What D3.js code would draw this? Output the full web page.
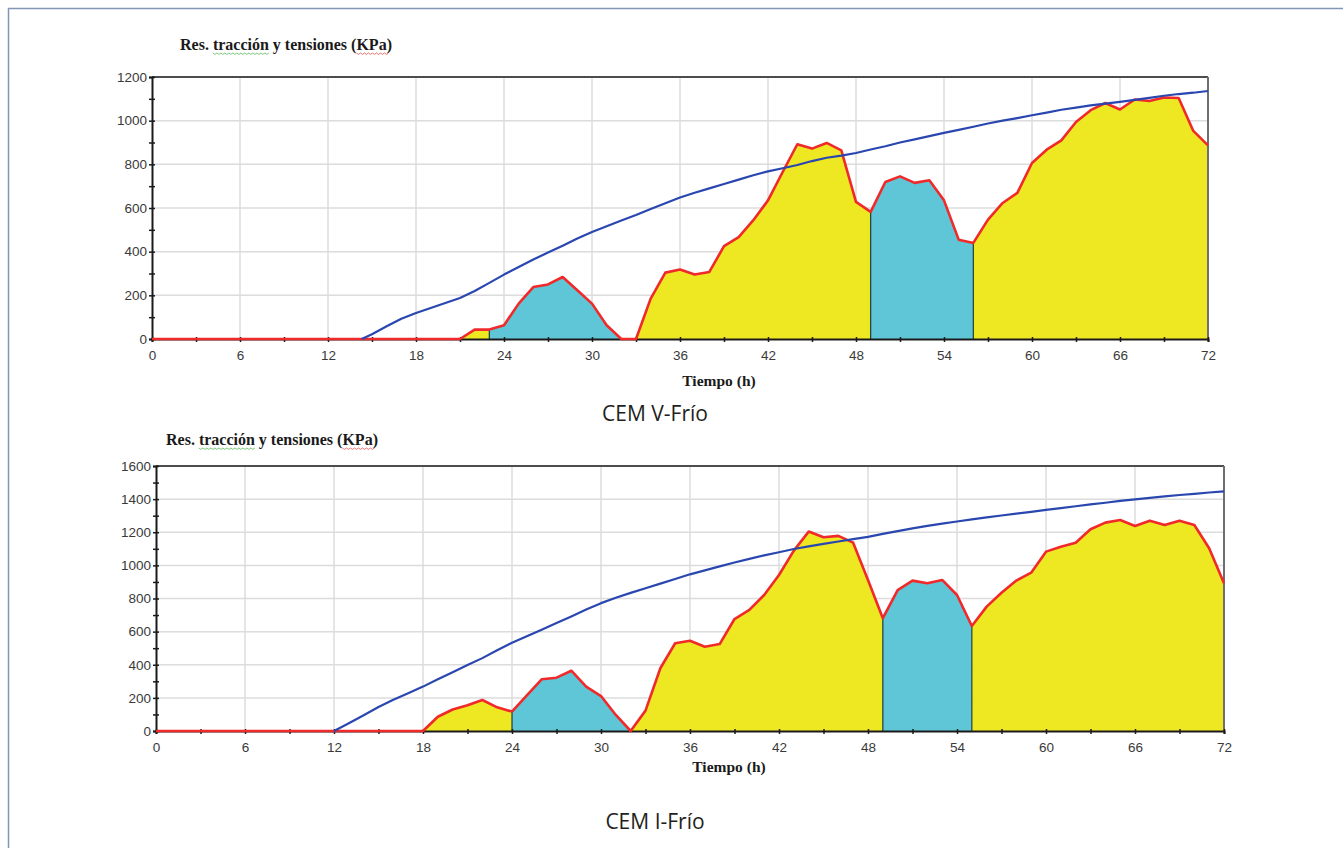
<!DOCTYPE html>
<html>
<head>
<meta charset="utf-8">
<script src="https://cdn.jsdelivr.net/npm/d3@7"></script>
<style>
  html, body { margin: 0; padding: 0; background: #fff; }
  svg { display: block; }
  .tick text { font-family: "Liberation Sans", Arial, sans-serif; font-size: 13.5px; fill: #3a3a3a; }
</style>
</head>
<body>
<svg id="fig" width="1343" height="848"></svg>
<script>
// ---- Data ----------------------------------------------------------------
// Hourly time base for the tensile-stress series (h)
const hours = [0,1,2,3,4,5,6,7,8,9,10,11,12,13,14,15,16,17,18,19,20,21,22,23,24,25,26,27,28,29,30,31,32,33,34,35,36,37,38,39,40,41,42,43,44,45,46,47,48,49,50,51,52,53,54,55,56,57,58,59,60,61,62,63,64,65,66,67,68,69,70,71,72];

// CEM V-Frío: tensiones (kPa), hourly
const stressV = [0,0,0,0,0,0,0,0,0,0,0,0,0,0,0,0,0,0,0,0,0,0,43,43,63,162,238,250,284,223,162,63,0,0,185,304,318,295,307,425,467,544,635,765,892,872,898,864,628,582,719,745,715,727,635,455,440,547,623,669,806,867,910,994,1048,1081,1051,1097,1090,1106,1104,953,887];
// CEM V-Frío: resistencia a tracción (kPa)
const strengthTimeV = [14.3,15,16,17,18,19,20,21,22,23,24,25,26,27,28,29,30,31,32,33,34,35,36,37,38,39,40,41,42,43,44,45,46,47,48,49,50,51,52,53,54,55,56,57,58,59,60,61,62,63,64,65,66,67,68,69,70,71,72];
const strengthV = [0,22,58,93,119,142,165,188,220,257,295,330,364,396,427,460,490,516,543,568,595,622,648,670,690,710,730,750,768,782,797,815,830,840,852,868,883,900,914,929,944,958,972,987,1000,1012,1025,1037,1050,1060,1070,1078,1086,1095,1104,1114,1122,1128,1136];
// CEM V-Frío: shaded bands (h)
const bandStartV = [21, 23, 33, 49, 56];
const bandEndV   = [23, 32, 49, 56, 72];
const bandKindV  = ["amarillo", "azul", "amarillo", "azul", "amarillo"];

// CEM I-Frío: tensiones (kPa), hourly
const stressI = [0,0,0,0,0,0,0,0,0,0,0,0,0,0,0,0,0,0,0,86,130,155,187,143,117,215,312,322,364,268,211,97,0,123,379,530,545,509,525,676,731,821,942,1089,1204,1170,1178,1137,912,681,851,908,892,912,821,634,751,835,908,956,1083,1113,1137,1218,1258,1274,1238,1270,1244,1270,1244,1103,892];
// CEM I-Frío: resistencia a tracción (kPa)
const strengthTimeI = [12,13,14,15,16,17,18,19,20,21,22,23,24,25,26,27,28,29,30,31,32,33,34,35,36,37,38,39,40,41,42,43,44,45,46,47,48,49,50,51,52,53,54,55,56,57,58,59,60,61,62,63,64,65,66,67,68,69,70,71,72];
const strengthI = [0,47,95,145,188,228,268,312,355,398,440,487,533,572,612,652,692,734,772,804,834,862,890,918,946,970,994,1017,1039,1060,1079,1099,1115,1130,1144,1158,1172,1190,1207,1223,1238,1252,1265,1278,1290,1301,1312,1323,1335,1346,1357,1368,1378,1389,1399,1408,1417,1425,1432,1440,1447];
// CEM I-Frío: shaded bands (h)
const bandStartI = [18, 24, 32, 49, 55];
const bandEndI   = [24, 32, 49, 55, 72];
const bandKindI  = ["amarillo", "azul", "amarillo", "azul", "amarillo"];

// Axis ticks
const xTicks = [0,6,12,18,24,30,36,42,48,54,60,66,72];
const xMinorTicks = [0,3,6,9,12,15,18,21,24,27,30,33,36,39,42,45,48,51,54,57,60,63,66,69,72];
const yTicksV = [0,200,400,600,800,1000,1200];
const yTicksI = [0,200,400,600,800,1000,1200,1400,1600];

const chartTitle = "Res. tracción y tensiones (KPa)";
const xAxisTitle = "Tiempo (h)";
const captions = ["CEM V-Frío", "CEM I-Frío"];

// ---- Drawing ---------------------------------------------------------------
const svg = d3.select("#fig");
const fillColor = { amarillo: "#eee823", azul: "#5ec6d6" };

// page frame (top and left rules)
svg.append("path")
  .attr("d", "M8.5,848 V8.5 H1343")
  .attr("fill", "none").attr("stroke", "#8197b8").attr("stroke-width", 1.5);

function drawPanel(cfg) {
  const x = d3.scaleLinear().domain([0, 72]).range([cfg.left, cfg.right]);
  const y = d3.scaleLinear().domain([0, cfg.yMax]).range([cfg.bottom, cfg.top]);
  const g = svg.append("g");

  // grid
  g.append("g").selectAll("line").data(xTicks.filter(d => d > 0 && d < 72)).join("line")
    .attr("x1", d => x(d)).attr("x2", d => x(d)).attr("y1", y(cfg.yMax)).attr("y2", y(0))
    .attr("stroke", "#dcdcdc").attr("stroke-width", 1.5);
  g.append("g").selectAll("line").data(cfg.yTicks.filter(d => d > 0 && d < cfg.yMax)).join("line")
    .attr("x1", x(0)).attr("x2", x(72)).attr("y1", d => y(d)).attr("y2", d => y(d))
    .attr("stroke", "#dcdcdc").attr("stroke-width", 1.5);

  // shaded bands under the stress curve
  const pts = cfg.hours.map((h, i) => [h, cfg.stress[i]]);
  const area = d3.area().x(d => x(d[0])).y0(y(0)).y1(d => y(d[1]));
  cfg.bandStart.forEach((s, i) => {
    const e = cfg.bandEnd[i];
    const seg = pts.filter(p => p[0] >= s && p[0] <= e);
    g.append("path").attr("d", area(seg)).attr("fill", fillColor[cfg.bandKind[i]]);
  });
  // dividers between adjacent bands
  cfg.bandStart.forEach((s, i) => {
    if (i === 0) return;
    if (cfg.bandEnd[i - 1] !== s) return;
    const v = cfg.stress[cfg.hours.indexOf(s)];
    g.append("line").attr("x1", x(s)).attr("x2", x(s)).attr("y1", y(0)).attr("y2", y(v))
      .attr("stroke", "#1f3b3b").attr("stroke-width", 1.2);
  });

  // frame top / right
  g.append("path")
    .attr("d", `M${x(0)},${y(cfg.yMax)} H${x(72)}`)
    .attr("stroke", "#4d4d4d").attr("stroke-width", 2).attr("fill", "none");
  g.append("path")
    .attr("d", `M${x(72)},${y(cfg.yMax)} V${y(0)}`)
    .attr("stroke", "#6f6f6f").attr("stroke-width", 2).attr("fill", "none");

  // y axis
  const yMinor = d3.range(0, cfg.yMax + 1, 100);
  const ya = g.append("g").attr("transform", `translate(${x(0)},0)`)
    .call(d3.axisLeft(y).tickValues(yMinor).tickSize(3).tickPadding(2)
      .tickFormat(d => (d % 200 === 0 ? d : "")));
  ya.select(".domain").attr("stroke", "#1a1a1a").attr("stroke-width", 2);
  ya.selectAll(".tick line").attr("x1", -3).attr("x2", 3).attr("stroke", "#1a1a1a").attr("stroke-width", 1.5);

  // x axis
  const xa = g.append("g").attr("transform", `translate(0,${y(0)})`)
    .call(d3.axisBottom(x).tickValues(xMinorTicks).tickSize(3).tickPadding(8)
      .tickFormat(d => (d % 6 === 0 ? d : "")));
  xa.select(".domain").attr("stroke", "#1a1a1a").attr("stroke-width", 2);
  xa.selectAll(".tick line").attr("y1", -2).attr("y2", 3).attr("stroke", "#1a1a1a").attr("stroke-width", 1.5);

  // stress curve (red) and tensile strength curve (blue)
  const line = d3.line().x(d => x(d[0])).y(d => y(d[1]));
  g.append("path").attr("d", line(pts))
    .attr("fill", "none").attr("stroke", "#f02a2a").attr("stroke-width", 2.6).attr("stroke-linejoin", "round");
  const spts = cfg.sTime.map((h, i) => [h, cfg.strength[i]]);
  g.append("path").attr("d", line(spts))
    .attr("fill", "none").attr("stroke", "#2a47b0").attr("stroke-width", 2.2).attr("stroke-linejoin", "round");

  // chart title with proofing squiggles
  const t = g.append("text").attr("x", cfg.titleX).attr("y", cfg.titleY)
    .attr("font-family", "'Liberation Serif', 'Times New Roman', serif")
    .attr("font-weight", "bold").attr("font-size", 16).attr("fill", "#1a1a1a")
    .text(chartTitle);
  const node = t.node();
  const squiggle = (word, color) => {
    const i0 = chartTitle.indexOf(word);
    const sx = node.getStartPositionOfChar(i0).x;
    const w = node.getSubStringLength(i0, word.length);
    let d = `M${sx},${cfg.titleY + 3}`;
    for (let k = 0, px = sx; px < sx + w; k++) { px += 2; d += ` L${px},${cfg.titleY + 3 + (k % 2 ? 0 : 1.4)}`; }
    g.append("path").attr("d", d).attr("fill", "none").attr("stroke", color).attr("stroke-width", 0.9).attr("opacity", 0.75);
  };
  squiggle("tracción", "#3caa3c");
  squiggle("KPa", "#e03030");

  // x axis title
  g.append("text").attr("x", cfg.xTitleX).attr("y", cfg.xTitleY).attr("text-anchor", "middle")
    .attr("font-family", "'Liberation Serif', 'Times New Roman', serif")
    .attr("font-weight", "bold").attr("font-size", 15.5).attr("fill", "#1a1a1a")
    .text(xAxisTitle);

  // caption
  svg.append("text").attr("x", cfg.capX).attr("y", cfg.capY).attr("text-anchor", "middle")
    .attr("font-family", "'Open Sans', 'Noto Sans', sans-serif").attr("font-size", 21).attr("fill", "#231f20")
    .text(cfg.caption);
}

drawPanel({
  hours: hours, stress: stressV, sTime: strengthTimeV, strength: strengthV,
  bandStart: bandStartV, bandEnd: bandEndV, bandKind: bandKindV,
  yMax: 1200, yTicks: yTicksV,
  left: 152, right: 1208, top: 77, bottom: 339,
  titleX: 180, titleY: 50, xTitleX: 719, xTitleY: 386,
  capX: 655, capY: 421, caption: captions[0]
});

drawPanel({
  hours: hours, stress: stressI, sTime: strengthTimeI, strength: strengthI,
  bandStart: bandStartI, bandEnd: bandEndI, bandKind: bandKindI,
  yMax: 1600, yTicks: yTicksI,
  left: 156, right: 1224, top: 466, bottom: 731,
  titleX: 166, titleY: 445, xTitleX: 729, xTitleY: 772,
  capX: 655, capY: 829, caption: captions[1]
});
</script>
</body>
</html>
